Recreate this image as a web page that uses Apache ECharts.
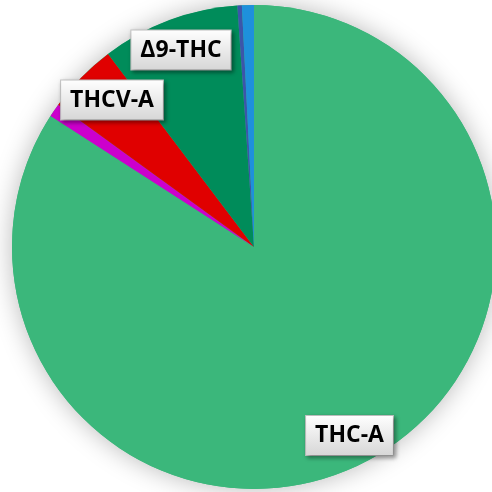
<!DOCTYPE html>
<html>
<head>
<meta charset="utf-8">
<script src="https://cdn.jsdelivr.net/npm/echarts@6/dist/echarts.min.js"></script>
<style>
html,body{margin:0;padding:0;background:#fff;}
#chart{width:492px;height:492px;}
</style>
</head>
<body>
<div id="chart"></div>
<script>
// Data (clockwise from 12 o'clock)
const names = ['THC-A', 'CBG-A', 'THCV-A', 'Δ9-THC', 'CBN', 'CBD-A'];
const values = [84.1, 0.9, 4.7, 9.2, 0.3, 0.8];
const colors = ['#3BB77B', '#CC00CC', '#E00000', '#008C5A', '#3C55AA', '#1E90DC'];
const shownLabels = ['THC-A', 'THCV-A', 'Δ9-THC'];

const labelPos = {
  'THC-A': [349.5, 435.5],
  'THCV-A': [112, 100],
  'Δ9-THC': [181, 50]
};

const chart = echarts.init(document.getElementById('chart'), null, {renderer: 'canvas'});

const boxBg = new echarts.graphic.LinearGradient(0, 0, 0, 1, [
  {offset: 0, color: '#ffffff'},
  {offset: 1, color: '#d6d6d6'}
]);

const data = names.map((n, i) => ({
  name: n,
  value: values[i],
  itemStyle: {color: colors[i]},
  label: {show: shownLabels.indexOf(n) >= 0}
}));

chart.setOption({
  animation: false,
  backgroundColor: '#ffffff',
  series: [
    {
      type: 'pie',
      silent: true,
      center: [254, 247],
      radius: 242,
      z: 1,
      label: {show: false},
      labelLine: {show: false},
      itemStyle: {color: '#3BB77B', shadowBlur: 26, shadowColor: 'rgba(0,0,0,0.28)', shadowOffsetX: 0, shadowOffsetY: 0},
      data: [{name: 'bg', value: 1}]
    },
    {
      type: 'pie',
      center: [254, 247],
      radius: 242,
      startAngle: 90,
      clockwise: true,
      z: 2,
      itemStyle: {borderWidth: 0},
      labelLine: {show: false},
      label: {
        position: 'inside',
        formatter: '{b}',
        fontFamily: 'Open Sans',
        fontWeight: 'bold',
        fontSize: 23,
        color: '#000',
        backgroundColor: boxBg,
        borderColor: '#c4c4c4',
        borderWidth: 1,
        padding: [8, 9, 8, 9],
        shadowColor: 'rgba(0,0,0,0.35)',
        shadowBlur: 4,
        shadowOffsetX: 2,
        shadowOffsetY: 2
      },
      labelLayout: function (p) {
        const pos = labelPos[names[p.dataIndex]];
        if (!pos) return {};
        return {x: pos[0], y: pos[1], align: 'center', verticalAlign: 'middle'};
      },
      emphasis: {disabled: true},
      data: data
    }
  ]
});
</script>
</body>
</html>
